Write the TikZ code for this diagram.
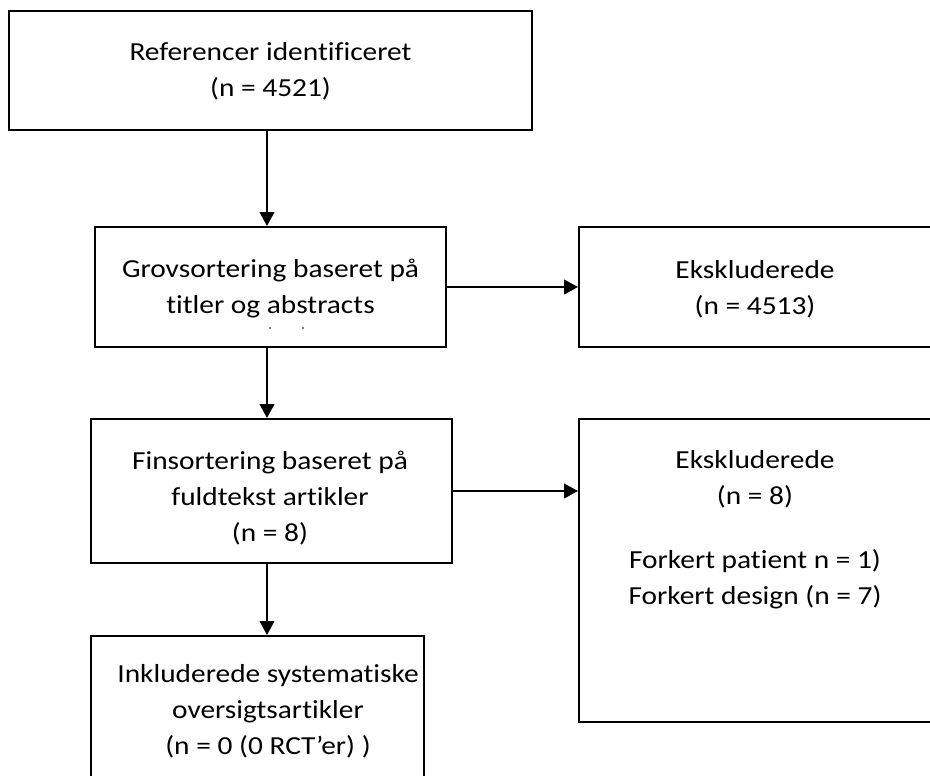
\documentclass[tikz,border=0pt]{standalone}
\usepackage{fontspec}
\setmainfont{Carlito}[Ligatures={NoCommon},FakeStretch=1.13]
\usetikzlibrary{arrows.meta}
\begin{document}
\begin{tikzpicture}[x=0.75pt,y=-0.75pt,
  boxnode/.style={draw=black,line width=1.5pt,inner sep=0pt,rectangle},
  txt/.style={align=center,inner sep=0pt,font=\fontsize{19.5}{27}\selectfont},
  conn/.style={line width=1.5pt,-{Triangle[length=10.5pt,width=11pt]}}]
\useasboundingbox (0,0) rectangle (930,775);
% boxes
\node[boxnode,minimum width=392.25pt,minimum height=89.25pt] (b1) at (270.5,70.5) {};
\node[boxnode,minimum width=263.25pt,minimum height=90pt] (b2) at (270.5,287) {};
\node[boxnode,minimum width=264pt,minimum height=90pt] (e1) at (755,287) {};
\node[boxnode,minimum width=270.75pt,minimum height=108pt] (b3) at (271.5,491) {};
\node[boxnode,minimum width=264pt,minimum height=227.25pt] (e2) at (755,570.5) {};
\node[boxnode,minimum width=249.75pt,minimum height=115.5pt] (b4) at (257.5,713) {};
% texts
\node[txt] (t1) at (270.5,71) {Referencer identificeret\\(n = 4521)};
\node[txt] (t2) at (270.5,289) {Grovsortering baseret på\\titler og abstracts};
\node[txt] (t3) at (755,289) {Ekskluderede\\(n = 4513)};
\node[txt] (t4) at (270,498.5) {Finsortering baseret på\\fuldtekst artikler\\(n = 8)};
\node[txt] (t5) at (755,529.5) {Ekskluderede\\(n = 8)\\[21pt]Forkert patient n = 1)\\Forkert design (n = 7)};
\node[txt] (t6) at (268,711.5) {Inkluderede systematiske\\oversigtsartikler\\(n = 0 (0 RCT’er) )};
% clipped remnants of a hidden line
\fill (270,328) circle (0.9);
\fill (303,328) circle (0.9);
% connectors
\coordinate (ax) at (267,0);
\draw[conn] (b1.south -| ax) -- (b2.north -| ax);
\draw[conn] (b2.east) -- (e1.west);
\draw[conn] (b2.south -| ax) -- (b3.north -| ax);
\draw[conn] (b3.east) -- (b3.east -| e2.west);
\draw[conn] (b3.south -| ax) -- (b4.north -| ax);
\end{tikzpicture}
\end{document}
